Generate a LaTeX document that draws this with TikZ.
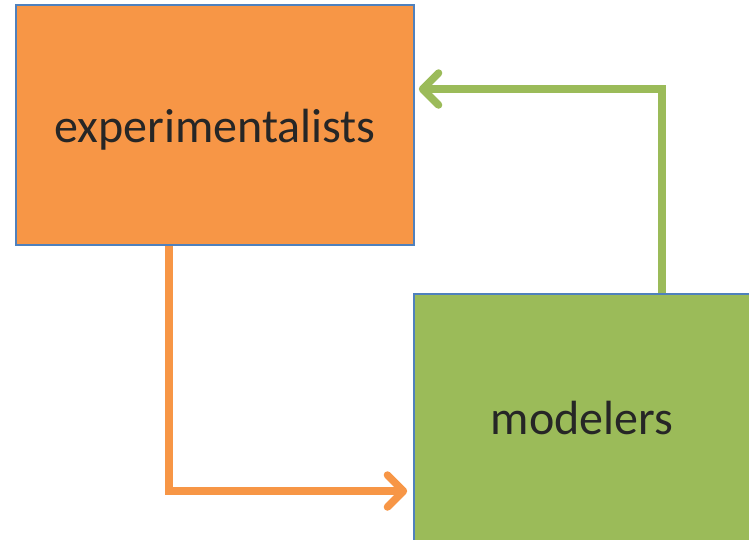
\documentclass[tikz,border=0pt]{standalone}
\usepackage{fontspec}
\setmainfont{Carlito}
\usepackage{tikz}
\usetikzlibrary{arrows.meta}
\definecolor{exptorange}{HTML}{F79646}
\definecolor{modelgreen}{HTML}{9BBB59}
\definecolor{boxblue}{HTML}{4F81BD}
\definecolor{textgray}{HTML}{262626}

\begin{document}
\begin{tikzpicture}[
    x=1pt,y=-1pt,
    box/.style={draw=boxblue, line width=1.6pt, inner sep=0pt,
      text=textgray, font=\fontsize{48}{56}\selectfont},
    flow/.style={line width=7.5pt, line join=miter,
      -{Straight Barb[length=16pt, width=32pt, round]}}
    ]
    \useasboundingbox (0, 0) rectangle (749, 539);
    \node[box, fill=exptorange, minimum width=398pt, minimum height=240pt,
      text height=42pt, text depth=8pt]
      (expt) at (215, 125) {experimentalists};
    \node[box, fill=modelgreen, minimum width=336pt, minimum height=248pt]
      (model) at (582, 418) {modelers};
    \draw[flow, exptorange] ([xshift=154pt]expt.south west) |- ([yshift=-73pt, xshift=-6pt]model.west);
    \draw[flow, modelgreen] ([xshift=249pt]model.north west) |- ([yshift=36pt, xshift=4pt]expt.east);
  \end{tikzpicture}
\end{document}
